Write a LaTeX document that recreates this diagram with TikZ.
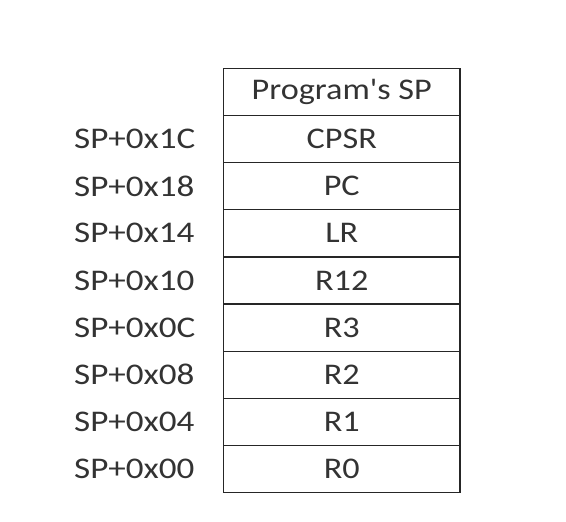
\documentclass[tikz,border=0pt]{standalone}
\usepackage{fontspec}
\setmainfont{Carlito}
\begin{document}
\begin{tikzpicture}[x=1pt,y=-1pt,
  cell/.style={draw=black!85,line width=1.3pt,minimum width=236.5pt,minimum height=47.15pt,
    inner sep=0pt,outer sep=0pt,text=black!80,font=\fontsize{30}{30}\selectfont},
  offset/.style={anchor=west,inner sep=0pt,text=black!80,font=\fontsize{30}{30}\selectfont}]
\useasboundingbox (0,0) rectangle (566,522);
% stack frame cells, top to bottom
\foreach \name/\txt [count=\i from 0] in {hdr/{Program\textquotesingle s SP},cpsr/CPSR,pc/PC,lr/LR,r12/R12,r3/R3,r2/R2,r1/R1,r0/R0}{
  \node[cell] (\name) at (341.75,{91.9+47.15*\i}) {\scalebox{1.14}[1]{\txt}};
}
% offsets from SP
\foreach \name/\txt in {cpsr/1C,pc/18,lr/14,r12/10,r3/0C,r2/08,r1/04,r0/00}{
  \node[offset] (off-\name) at (74,0 |- \name) {\scalebox{1.17}[1]{SP+0x\txt}};
}
\end{tikzpicture}
\end{document}
